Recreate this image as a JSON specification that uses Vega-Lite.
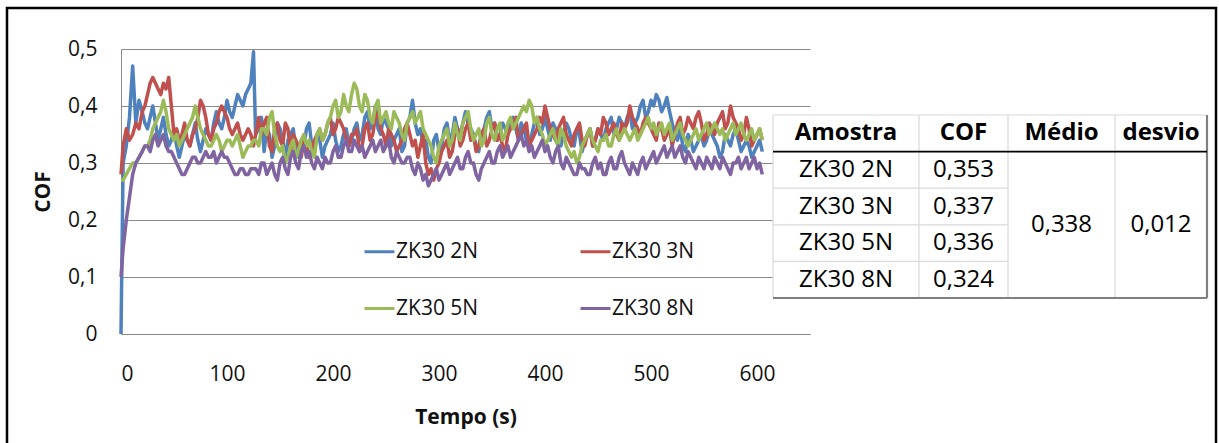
{
  "$schema": "https://vega.github.io/schema/vega-lite/v6.json",
  "width": 689,
  "height": 285,
  "autosize": {"type": "none"},
  "padding": {"left": 121, "top": 49, "right": 409, "bottom": 109},
  "background": "white",
  "config": {
    "view": {"stroke": null},
    "font": "Open Sans",
    "axis": {
      "labelFont": "Open Sans",
      "labelFontSize": 21,
      "labelColor": "#111111",
      "titleFont": "Open Sans",
      "titleFontSize": 21,
      "titleFontWeight": "bold",
      "titleColor": "#111111",
      "domainColor": "#8a8a8a",
      "gridColor": "#8a8a8a",
      "ticks": false
    }
  },
  "datasets": {
    "ensaios": [
      {"t":0,"ZK30 2N":0.00,"ZK30 3N":0.28,"ZK30 5N":0.27,"ZK30 8N":0.10},
      {"t":2,"ZK30 2N":0.30,"ZK30 3N":0.33,"ZK30 5N":0.27,"ZK30 8N":0.15},
      {"t":5,"ZK30 2N":0.33,"ZK30 3N":0.36,"ZK30 5N":0.28,"ZK30 8N":0.20},
      {"t":8,"ZK30 2N":0.38,"ZK30 3N":0.34,"ZK30 5N":0.29,"ZK30 8N":0.24},
      {"t":11,"ZK30 2N":0.47,"ZK30 3N":0.35,"ZK30 5N":0.30,"ZK30 8N":0.28},
      {"t":14,"ZK30 2N":0.37,"ZK30 3N":0.37,"ZK30 5N":0.30,"ZK30 8N":0.30},
      {"t":17,"ZK30 2N":0.41,"ZK30 3N":0.36,"ZK30 5N":0.31,"ZK30 8N":0.31},
      {"t":20,"ZK30 2N":0.39,"ZK30 3N":0.39,"ZK30 5N":0.32,"ZK30 8N":0.32},
      {"t":25,"ZK30 2N":0.36,"ZK30 3N":0.42,"ZK30 5N":0.33,"ZK30 8N":0.33},
      {"t":30,"ZK30 2N":0.40,"ZK30 3N":0.45,"ZK30 5N":0.36,"ZK30 8N":0.34},
      {"t":35,"ZK30 2N":0.34,"ZK30 3N":0.43,"ZK30 5N":0.38,"ZK30 8N":0.33},
      {"t":40,"ZK30 2N":0.38,"ZK30 3N":0.44,"ZK30 5N":0.41,"ZK30 8N":0.35},
      {"t":45,"ZK30 2N":0.33,"ZK30 3N":0.45,"ZK30 5N":0.36,"ZK30 8N":0.32},
      {"t":50,"ZK30 2N":0.36,"ZK30 3N":0.35,"ZK30 5N":0.34,"ZK30 8N":0.31},
      {"t":55,"ZK30 2N":0.31,"ZK30 3N":0.34,"ZK30 5N":0.33,"ZK30 8N":0.29},
      {"t":60,"ZK30 2N":0.35,"ZK30 3N":0.37,"ZK30 5N":0.35,"ZK30 8N":0.28},
      {"t":65,"ZK30 2N":0.33,"ZK30 3N":0.33,"ZK30 5N":0.37,"ZK30 8N":0.30},
      {"t":70,"ZK30 2N":0.37,"ZK30 3N":0.36,"ZK30 5N":0.40,"ZK30 8N":0.31},
      {"t":75,"ZK30 2N":0.32,"ZK30 3N":0.41,"ZK30 5N":0.36,"ZK30 8N":0.30},
      {"t":80,"ZK30 2N":0.36,"ZK30 3N":0.38,"ZK30 5N":0.34,"ZK30 8N":0.32},
      {"t":85,"ZK30 2N":0.34,"ZK30 3N":0.34,"ZK30 5N":0.33,"ZK30 8N":0.31},
      {"t":90,"ZK30 2N":0.39,"ZK30 3N":0.37,"ZK30 5N":0.35,"ZK30 8N":0.30},
      {"t":95,"ZK30 2N":0.36,"ZK30 3N":0.40,"ZK30 5N":0.32,"ZK30 8N":0.32},
      {"t":100,"ZK30 2N":0.41,"ZK30 3N":0.38,"ZK30 5N":0.34,"ZK30 8N":0.31},
      {"t":105,"ZK30 2N":0.38,"ZK30 3N":0.35,"ZK30 5N":0.33,"ZK30 8N":0.29},
      {"t":110,"ZK30 2N":0.42,"ZK30 3N":0.37,"ZK30 5N":0.35,"ZK30 8N":0.28},
      {"t":115,"ZK30 2N":0.40,"ZK30 3N":0.34,"ZK30 5N":0.31,"ZK30 8N":0.29},
      {"t":120,"ZK30 2N":0.43,"ZK30 3N":0.36,"ZK30 5N":0.33,"ZK30 8N":0.28},
      {"t":125,"ZK30 2N":0.495,"ZK30 3N":0.33,"ZK30 5N":0.34,"ZK30 8N":0.29},
      {"t":127,"ZK30 2N":0.35,"ZK30 3N":0.35,"ZK30 5N":0.34,"ZK30 8N":0.29},
      {"t":130,"ZK30 2N":0.36,"ZK30 3N":0.38,"ZK30 5N":0.33,"ZK30 8N":0.28},
      {"t":135,"ZK30 2N":0.32,"ZK30 3N":0.37,"ZK30 5N":0.36,"ZK30 8N":0.30},
      {"t":140,"ZK30 2N":0.35,"ZK30 3N":0.33,"ZK30 5N":0.38,"ZK30 8N":0.29},
      {"t":145,"ZK30 2N":0.33,"ZK30 3N":0.36,"ZK30 5N":0.35,"ZK30 8N":0.28},
      {"t":150,"ZK30 2N":0.36,"ZK30 3N":0.34,"ZK30 5N":0.32,"ZK30 8N":0.30},
      {"t":155,"ZK30 2N":0.31,"ZK30 3N":0.37,"ZK30 5N":0.30,"ZK30 8N":0.29},
      {"t":160,"ZK30 2N":0.35,"ZK30 3N":0.32,"ZK30 5N":0.33,"ZK30 8N":0.31},
      {"t":165,"ZK30 2N":0.32,"ZK30 3N":0.34,"ZK30 5N":0.31,"ZK30 8N":0.30},
      {"t":170,"ZK30 2N":0.34,"ZK30 3N":0.31,"ZK30 5N":0.34,"ZK30 8N":0.32},
      {"t":175,"ZK30 2N":0.36,"ZK30 3N":0.33,"ZK30 5N":0.33,"ZK30 8N":0.31},
      {"t":180,"ZK30 2N":0.33,"ZK30 3N":0.32,"ZK30 5N":0.32,"ZK30 8N":0.30},
      {"t":185,"ZK30 2N":0.35,"ZK30 3N":0.35,"ZK30 5N":0.35,"ZK30 8N":0.31},
      {"t":190,"ZK30 2N":0.31,"ZK30 3N":0.34,"ZK30 5N":0.34,"ZK30 8N":0.29},
      {"t":195,"ZK30 2N":0.34,"ZK30 3N":0.37,"ZK30 5N":0.37,"ZK30 8N":0.30},
      {"t":200,"ZK30 2N":0.37,"ZK30 3N":0.35,"ZK30 5N":0.40,"ZK30 8N":0.32},
      {"t":205,"ZK30 2N":0.32,"ZK30 3N":0.38,"ZK30 5N":0.38,"ZK30 8N":0.31},
      {"t":210,"ZK30 2N":0.35,"ZK30 3N":0.36,"ZK30 5N":0.42,"ZK30 8N":0.33},
      {"t":215,"ZK30 2N":0.33,"ZK30 3N":0.33,"ZK30 5N":0.39,"ZK30 8N":0.32},
      {"t":220,"ZK30 2N":0.36,"ZK30 3N":0.35,"ZK30 5N":0.44,"ZK30 8N":0.34},
      {"t":225,"ZK30 2N":0.34,"ZK30 3N":0.32,"ZK30 5N":0.40,"ZK30 8N":0.32},
      {"t":230,"ZK30 2N":0.38,"ZK30 3N":0.36,"ZK30 5N":0.42,"ZK30 8N":0.31},
      {"t":235,"ZK30 2N":0.36,"ZK30 3N":0.34,"ZK30 5N":0.38,"ZK30 8N":0.33},
      {"t":240,"ZK30 2N":0.40,"ZK30 3N":0.38,"ZK30 5N":0.40,"ZK30 8N":0.32},
      {"t":245,"ZK30 2N":0.35,"ZK30 3N":0.36,"ZK30 5N":0.37,"ZK30 8N":0.34},
      {"t":250,"ZK30 2N":0.37,"ZK30 3N":0.33,"ZK30 5N":0.39,"ZK30 8N":0.33},
      {"t":255,"ZK30 2N":0.33,"ZK30 3N":0.35,"ZK30 5N":0.36,"ZK30 8N":0.31},
      {"t":260,"ZK30 2N":0.35,"ZK30 3N":0.32,"ZK30 5N":0.38,"ZK30 8N":0.32},
      {"t":265,"ZK30 2N":0.32,"ZK30 3N":0.34,"ZK30 5N":0.35,"ZK30 8N":0.30},
      {"t":270,"ZK30 2N":0.37,"ZK30 3N":0.37,"ZK30 5N":0.37,"ZK30 8N":0.31},
      {"t":275,"ZK30 2N":0.41,"ZK30 3N":0.33,"ZK30 5N":0.39,"ZK30 8N":0.29},
      {"t":280,"ZK30 2N":0.35,"ZK30 3N":0.31,"ZK30 5N":0.38,"ZK30 8N":0.30},
      {"t":285,"ZK30 2N":0.33,"ZK30 3N":0.35,"ZK30 5N":0.36,"ZK30 8N":0.27},
      {"t":290,"ZK30 2N":0.31,"ZK30 3N":0.28,"ZK30 5N":0.34,"ZK30 8N":0.26},
      {"t":295,"ZK30 2N":0.34,"ZK30 3N":0.27,"ZK30 5N":0.31,"ZK30 8N":0.28},
      {"t":300,"ZK30 2N":0.32,"ZK30 3N":0.30,"ZK30 5N":0.33,"ZK30 8N":0.27},
      {"t":305,"ZK30 2N":0.36,"ZK30 3N":0.33,"ZK30 5N":0.35,"ZK30 8N":0.29},
      {"t":310,"ZK30 2N":0.34,"ZK30 3N":0.31,"ZK30 5N":0.33,"ZK30 8N":0.28},
      {"t":315,"ZK30 2N":0.38,"ZK30 3N":0.35,"ZK30 5N":0.37,"ZK30 8N":0.30},
      {"t":320,"ZK30 2N":0.35,"ZK30 3N":0.33,"ZK30 5N":0.34,"ZK30 8N":0.29},
      {"t":325,"ZK30 2N":0.39,"ZK30 3N":0.36,"ZK30 5N":0.38,"ZK30 8N":0.31},
      {"t":330,"ZK30 2N":0.36,"ZK30 3N":0.34,"ZK30 5N":0.36,"ZK30 8N":0.30},
      {"t":335,"ZK30 2N":0.33,"ZK30 3N":0.32,"ZK30 5N":0.35,"ZK30 8N":0.28},
      {"t":340,"ZK30 2N":0.35,"ZK30 3N":0.35,"ZK30 5N":0.33,"ZK30 8N":0.29},
      {"t":345,"ZK30 2N":0.38,"ZK30 3N":0.33,"ZK30 5N":0.37,"ZK30 8N":0.31},
      {"t":350,"ZK30 2N":0.36,"ZK30 3N":0.36,"ZK30 5N":0.35,"ZK30 8N":0.30},
      {"t":355,"ZK30 2N":0.34,"ZK30 3N":0.34,"ZK30 5N":0.36,"ZK30 8N":0.32},
      {"t":360,"ZK30 2N":0.37,"ZK30 3N":0.33,"ZK30 5N":0.34,"ZK30 8N":0.31},
      {"t":365,"ZK30 2N":0.35,"ZK30 3N":0.35,"ZK30 5N":0.37,"ZK30 8N":0.33},
      {"t":370,"ZK30 2N":0.38,"ZK30 3N":0.37,"ZK30 5N":0.36,"ZK30 8N":0.32},
      {"t":375,"ZK30 2N":0.34,"ZK30 3N":0.34,"ZK30 5N":0.38,"ZK30 8N":0.34},
      {"t":380,"ZK30 2N":0.36,"ZK30 3N":0.36,"ZK30 5N":0.40,"ZK30 8N":0.33},
      {"t":385,"ZK30 2N":0.33,"ZK30 3N":0.33,"ZK30 5N":0.41,"ZK30 8N":0.32},
      {"t":390,"ZK30 2N":0.37,"ZK30 3N":0.35,"ZK30 5N":0.37,"ZK30 8N":0.31},
      {"t":395,"ZK30 2N":0.35,"ZK30 3N":0.38,"ZK30 5N":0.36,"ZK30 8N":0.33},
      {"t":400,"ZK30 2N":0.38,"ZK30 3N":0.40,"ZK30 5N":0.33,"ZK30 8N":0.32},
      {"t":405,"ZK30 2N":0.34,"ZK30 3N":0.36,"ZK30 5N":0.35,"ZK30 8N":0.31},
      {"t":410,"ZK30 2N":0.36,"ZK30 3N":0.34,"ZK30 5N":0.34,"ZK30 8N":0.32},
      {"t":415,"ZK30 2N":0.33,"ZK30 3N":0.37,"ZK30 5N":0.36,"ZK30 8N":0.30},
      {"t":420,"ZK30 2N":0.37,"ZK30 3N":0.35,"ZK30 5N":0.33,"ZK30 8N":0.31},
      {"t":425,"ZK30 2N":0.34,"ZK30 3N":0.33,"ZK30 5N":0.31,"ZK30 8N":0.29},
      {"t":430,"ZK30 2N":0.36,"ZK30 3N":0.36,"ZK30 5N":0.30,"ZK30 8N":0.28},
      {"t":435,"ZK30 2N":0.32,"ZK30 3N":0.34,"ZK30 5N":0.33,"ZK30 8N":0.29},
      {"t":440,"ZK30 2N":0.35,"ZK30 3N":0.35,"ZK30 5N":0.35,"ZK30 8N":0.28},
      {"t":445,"ZK30 2N":0.33,"ZK30 3N":0.33,"ZK30 5N":0.34,"ZK30 8N":0.30},
      {"t":450,"ZK30 2N":0.36,"ZK30 3N":0.36,"ZK30 5N":0.32,"ZK30 8N":0.29},
      {"t":455,"ZK30 2N":0.34,"ZK30 3N":0.38,"ZK30 5N":0.34,"ZK30 8N":0.28},
      {"t":460,"ZK30 2N":0.37,"ZK30 3N":0.35,"ZK30 5N":0.33,"ZK30 8N":0.30},
      {"t":465,"ZK30 2N":0.35,"ZK30 3N":0.37,"ZK30 5N":0.35,"ZK30 8N":0.29},
      {"t":470,"ZK30 2N":0.38,"ZK30 3N":0.34,"ZK30 5N":0.34,"ZK30 8N":0.31},
      {"t":475,"ZK30 2N":0.36,"ZK30 3N":0.36,"ZK30 5N":0.36,"ZK30 8N":0.30},
      {"t":480,"ZK30 2N":0.39,"ZK30 3N":0.40,"ZK30 5N":0.34,"ZK30 8N":0.28},
      {"t":485,"ZK30 2N":0.37,"ZK30 3N":0.37,"ZK30 5N":0.36,"ZK30 8N":0.29},
      {"t":490,"ZK30 2N":0.40,"ZK30 3N":0.35,"ZK30 5N":0.35,"ZK30 8N":0.30},
      {"t":495,"ZK30 2N":0.38,"ZK30 3N":0.38,"ZK30 5N":0.37,"ZK30 8N":0.29},
      {"t":500,"ZK30 2N":0.41,"ZK30 3N":0.36,"ZK30 5N":0.36,"ZK30 8N":0.31},
      {"t":505,"ZK30 2N":0.42,"ZK30 3N":0.34,"ZK30 5N":0.35,"ZK30 8N":0.30},
      {"t":510,"ZK30 2N":0.39,"ZK30 3N":0.36,"ZK30 5N":0.37,"ZK30 8N":0.32},
      {"t":515,"ZK30 2N":0.415,"ZK30 3N":0.35,"ZK30 5N":0.36,"ZK30 8N":0.31},
      {"t":520,"ZK30 2N":0.37,"ZK30 3N":0.33,"ZK30 5N":0.34,"ZK30 8N":0.33},
      {"t":525,"ZK30 2N":0.34,"ZK30 3N":0.37,"ZK30 5N":0.36,"ZK30 8N":0.32},
      {"t":530,"ZK30 2N":0.33,"ZK30 3N":0.35,"ZK30 5N":0.35,"ZK30 8N":0.31},
      {"t":535,"ZK30 2N":0.35,"ZK30 3N":0.38,"ZK30 5N":0.33,"ZK30 8N":0.32},
      {"t":540,"ZK30 2N":0.32,"ZK30 3N":0.36,"ZK30 5N":0.35,"ZK30 8N":0.30},
      {"t":545,"ZK30 2N":0.34,"ZK30 3N":0.39,"ZK30 5N":0.34,"ZK30 8N":0.31},
      {"t":550,"ZK30 2N":0.33,"ZK30 3N":0.34,"ZK30 5N":0.36,"ZK30 8N":0.29},
      {"t":555,"ZK30 2N":0.36,"ZK30 3N":0.37,"ZK30 5N":0.35,"ZK30 8N":0.30},
      {"t":560,"ZK30 2N":0.34,"ZK30 3N":0.35,"ZK30 5N":0.37,"ZK30 8N":0.31},
      {"t":565,"ZK30 2N":0.31,"ZK30 3N":0.38,"ZK30 5N":0.35,"ZK30 8N":0.29},
      {"t":570,"ZK30 2N":0.35,"ZK30 3N":0.36,"ZK30 5N":0.34,"ZK30 8N":0.30},
      {"t":575,"ZK30 2N":0.33,"ZK30 3N":0.40,"ZK30 5N":0.36,"ZK30 8N":0.28},
      {"t":580,"ZK30 2N":0.36,"ZK30 3N":0.37,"ZK30 5N":0.35,"ZK30 8N":0.30},
      {"t":585,"ZK30 2N":0.32,"ZK30 3N":0.34,"ZK30 5N":0.37,"ZK30 8N":0.29},
      {"t":590,"ZK30 2N":0.34,"ZK30 3N":0.38,"ZK30 5N":0.34,"ZK30 8N":0.31},
      {"t":595,"ZK30 2N":0.31,"ZK30 3N":0.33,"ZK30 5N":0.36,"ZK30 8N":0.30},
      {"t":600,"ZK30 2N":0.33,"ZK30 3N":0.35,"ZK30 5N":0.35,"ZK30 8N":0.29},
      {"t":605,"ZK30 2N":0.32,"ZK30 3N":0.34,"ZK30 5N":0.34,"ZK30 8N":0.28},
      {"t":22.5,"ZK30 2N":0.37,"ZK30 3N":0.40,"ZK30 5N":0.33,"ZK30 8N":0.33},
      {"t":27.5,"ZK30 2N":0.38,"ZK30 3N":0.44,"ZK30 5N":0.34,"ZK30 8N":0.32},
      {"t":32.5,"ZK30 2N":0.37,"ZK30 3N":0.44,"ZK30 5N":0.37,"ZK30 8N":0.35},
      {"t":37.5,"ZK30 2N":0.36,"ZK30 3N":0.42,"ZK30 5N":0.39,"ZK30 8N":0.34},
      {"t":42.5,"ZK30 2N":0.35,"ZK30 3N":0.43,"ZK30 5N":0.39,"ZK30 8N":0.33},
      {"t":47.5,"ZK30 2N":0.34,"ZK30 3N":0.40,"ZK30 5N":0.35,"ZK30 8N":0.32},
      {"t":52.5,"ZK30 2N":0.33,"ZK30 3N":0.36,"ZK30 5N":0.35,"ZK30 8N":0.30},
      {"t":57.5,"ZK30 2N":0.33,"ZK30 3N":0.35,"ZK30 5N":0.34,"ZK30 8N":0.28},
      {"t":62.5,"ZK30 2N":0.34,"ZK30 3N":0.34,"ZK30 5N":0.36,"ZK30 8N":0.29},
      {"t":67.5,"ZK30 2N":0.35,"ZK30 3N":0.35,"ZK30 5N":0.38,"ZK30 8N":0.31},
      {"t":72.5,"ZK30 2N":0.34,"ZK30 3N":0.38,"ZK30 5N":0.38,"ZK30 8N":0.30},
      {"t":77.5,"ZK30 2N":0.34,"ZK30 3N":0.40,"ZK30 5N":0.35,"ZK30 8N":0.31},
      {"t":82.5,"ZK30 2N":0.35,"ZK30 3N":0.35,"ZK30 5N":0.33,"ZK30 8N":0.31},
      {"t":87.5,"ZK30 2N":0.37,"ZK30 3N":0.36,"ZK30 5N":0.34,"ZK30 8N":0.32},
      {"t":92.5,"ZK30 2N":0.37,"ZK30 3N":0.39,"ZK30 5N":0.34,"ZK30 8N":0.31},
      {"t":97.5,"ZK30 2N":0.38,"ZK30 3N":0.39,"ZK30 5N":0.33,"ZK30 8N":0.31},
      {"t":102.5,"ZK30 2N":0.39,"ZK30 3N":0.36,"ZK30 5N":0.34,"ZK30 8N":0.30},
      {"t":107.5,"ZK30 2N":0.40,"ZK30 3N":0.36,"ZK30 5N":0.34,"ZK30 8N":0.28},
      {"t":112.5,"ZK30 2N":0.41,"ZK30 3N":0.35,"ZK30 5N":0.33,"ZK30 8N":0.29},
      {"t":117.5,"ZK30 2N":0.42,"ZK30 3N":0.35,"ZK30 5N":0.32,"ZK30 8N":0.28},
      {"t":122.5,"ZK30 2N":0.44,"ZK30 3N":0.35,"ZK30 5N":0.33,"ZK30 8N":0.29},
      {"t":132.5,"ZK30 2N":0.38,"ZK30 3N":0.35,"ZK30 5N":0.36,"ZK30 8N":0.30},
      {"t":137.5,"ZK30 2N":0.36,"ZK30 3N":0.38,"ZK30 5N":0.35,"ZK30 8N":0.28},
      {"t":142.5,"ZK30 2N":0.31,"ZK30 3N":0.32,"ZK30 5N":0.39,"ZK30 8N":0.30},
      {"t":147.5,"ZK30 2N":0.37,"ZK30 3N":0.37,"ZK30 5N":0.33,"ZK30 8N":0.27},
      {"t":152.5,"ZK30 2N":0.34,"ZK30 3N":0.33,"ZK30 5N":0.33,"ZK30 8N":0.31},
      {"t":157.5,"ZK30 2N":0.34,"ZK30 3N":0.36,"ZK30 5N":0.31,"ZK30 8N":0.28},
      {"t":162.5,"ZK30 2N":0.36,"ZK30 3N":0.35,"ZK30 5N":0.34,"ZK30 8N":0.32},
      {"t":167.5,"ZK30 2N":0.31,"ZK30 3N":0.33,"ZK30 5N":0.32,"ZK30 8N":0.29},
      {"t":172.5,"ZK30 2N":0.33,"ZK30 3N":0.34,"ZK30 5N":0.35,"ZK30 8N":0.33},
      {"t":177.5,"ZK30 2N":0.37,"ZK30 3N":0.31,"ZK30 5N":0.34,"ZK30 8N":0.32},
      {"t":182.5,"ZK30 2N":0.32,"ZK30 3N":0.34,"ZK30 5N":0.31,"ZK30 8N":0.29},
      {"t":187.5,"ZK30 2N":0.34,"ZK30 3N":0.36,"ZK30 5N":0.36,"ZK30 8N":0.30},
      {"t":192.5,"ZK30 2N":0.33,"ZK30 3N":0.35,"ZK30 5N":0.35,"ZK30 8N":0.31},
      {"t":197.5,"ZK30 2N":0.35,"ZK30 3N":0.38,"ZK30 5N":0.38,"ZK30 8N":0.30},
      {"t":202.5,"ZK30 2N":0.34,"ZK30 3N":0.36,"ZK30 5N":0.41,"ZK30 8N":0.33},
      {"t":207.5,"ZK30 2N":0.33,"ZK30 3N":0.37,"ZK30 5N":0.39,"ZK30 8N":0.31},
      {"t":212.5,"ZK30 2N":0.36,"ZK30 3N":0.34,"ZK30 5N":0.40,"ZK30 8N":0.34},
      {"t":217.5,"ZK30 2N":0.34,"ZK30 3N":0.35,"ZK30 5N":0.42,"ZK30 8N":0.32},
      {"t":222.5,"ZK30 2N":0.37,"ZK30 3N":0.36,"ZK30 5N":0.43,"ZK30 8N":0.33},
      {"t":227.5,"ZK30 2N":0.35,"ZK30 3N":0.33,"ZK30 5N":0.39,"ZK30 8N":0.33},
      {"t":232.5,"ZK30 2N":0.39,"ZK30 3N":0.37,"ZK30 5N":0.41,"ZK30 8N":0.32},
      {"t":237.5,"ZK30 2N":0.37,"ZK30 3N":0.35,"ZK30 5N":0.37,"ZK30 8N":0.34},
      {"t":242.5,"ZK30 2N":0.36,"ZK30 3N":0.39,"ZK30 5N":0.41,"ZK30 8N":0.33},
      {"t":247.5,"ZK30 2N":0.38,"ZK30 3N":0.35,"ZK30 5N":0.38,"ZK30 8N":0.32},
      {"t":252.5,"ZK30 2N":0.36,"ZK30 3N":0.36,"ZK30 5N":0.37,"ZK30 8N":0.34},
      {"t":257.5,"ZK30 2N":0.34,"ZK30 3N":0.34,"ZK30 5N":0.39,"ZK30 8N":0.30},
      {"t":262.5,"ZK30 2N":0.36,"ZK30 3N":0.33,"ZK30 5N":0.37,"ZK30 8N":0.31},
      {"t":267.5,"ZK30 2N":0.33,"ZK30 3N":0.36,"ZK30 5N":0.34,"ZK30 8N":0.30},
      {"t":272.5,"ZK30 2N":0.38,"ZK30 3N":0.35,"ZK30 5N":0.38,"ZK30 8N":0.31},
      {"t":277.5,"ZK30 2N":0.37,"ZK30 3N":0.34,"ZK30 5N":0.37,"ZK30 8N":0.28},
      {"t":282.5,"ZK30 2N":0.36,"ZK30 3N":0.33,"ZK30 5N":0.39,"ZK30 8N":0.29},
      {"t":287.5,"ZK30 2N":0.34,"ZK30 3N":0.30,"ZK30 5N":0.35,"ZK30 8N":0.28},
      {"t":292.5,"ZK30 2N":0.30,"ZK30 3N":0.29,"ZK30 5N":0.33,"ZK30 8N":0.27},
      {"t":297.5,"ZK30 2N":0.35,"ZK30 3N":0.29,"ZK30 5N":0.30,"ZK30 8N":0.29},
      {"t":302.5,"ZK30 2N":0.33,"ZK30 3N":0.32,"ZK30 5N":0.34,"ZK30 8N":0.28},
      {"t":307.5,"ZK30 2N":0.37,"ZK30 3N":0.34,"ZK30 5N":0.36,"ZK30 8N":0.30},
      {"t":312.5,"ZK30 2N":0.35,"ZK30 3N":0.32,"ZK30 5N":0.34,"ZK30 8N":0.29},
      {"t":317.5,"ZK30 2N":0.36,"ZK30 3N":0.36,"ZK30 5N":0.35,"ZK30 8N":0.31},
      {"t":322.5,"ZK30 2N":0.37,"ZK30 3N":0.34,"ZK30 5N":0.37,"ZK30 8N":0.29},
      {"t":327.5,"ZK30 2N":0.37,"ZK30 3N":0.37,"ZK30 5N":0.39,"ZK30 8N":0.32},
      {"t":332.5,"ZK30 2N":0.35,"ZK30 3N":0.35,"ZK30 5N":0.34,"ZK30 8N":0.30},
      {"t":337.5,"ZK30 2N":0.32,"ZK30 3N":0.33,"ZK30 5N":0.36,"ZK30 8N":0.27},
      {"t":342.5,"ZK30 2N":0.36,"ZK30 3N":0.36,"ZK30 5N":0.34,"ZK30 8N":0.30},
      {"t":347.5,"ZK30 2N":0.39,"ZK30 3N":0.34,"ZK30 5N":0.38,"ZK30 8N":0.32},
      {"t":352.5,"ZK30 2N":0.37,"ZK30 3N":0.37,"ZK30 5N":0.34,"ZK30 8N":0.30},
      {"t":357.5,"ZK30 2N":0.35,"ZK30 3N":0.35,"ZK30 5N":0.37,"ZK30 8N":0.33},
      {"t":362.5,"ZK30 2N":0.36,"ZK30 3N":0.32,"ZK30 5N":0.35,"ZK30 8N":0.32},
      {"t":367.5,"ZK30 2N":0.37,"ZK30 3N":0.36,"ZK30 5N":0.38,"ZK30 8N":0.31},
      {"t":372.5,"ZK30 2N":0.36,"ZK30 3N":0.38,"ZK30 5N":0.37,"ZK30 8N":0.33},
      {"t":377.5,"ZK30 2N":0.37,"ZK30 3N":0.35,"ZK30 5N":0.39,"ZK30 8N":0.35},
      {"t":382.5,"ZK30 2N":0.34,"ZK30 3N":0.37,"ZK30 5N":0.39,"ZK30 8N":0.34},
      {"t":387.5,"ZK30 2N":0.35,"ZK30 3N":0.34,"ZK30 5N":0.40,"ZK30 8N":0.33},
      {"t":392.5,"ZK30 2N":0.38,"ZK30 3N":0.36,"ZK30 5N":0.38,"ZK30 8N":0.32},
      {"t":397.5,"ZK30 2N":0.36,"ZK30 3N":0.37,"ZK30 5N":0.35,"ZK30 8N":0.34},
      {"t":402.5,"ZK30 2N":0.36,"ZK30 3N":0.38,"ZK30 5N":0.34,"ZK30 8N":0.33},
      {"t":407.5,"ZK30 2N":0.37,"ZK30 3N":0.35,"ZK30 5N":0.36,"ZK30 8N":0.30},
      {"t":412.5,"ZK30 2N":0.34,"ZK30 3N":0.36,"ZK30 5N":0.33,"ZK30 8N":0.33},
      {"t":417.5,"ZK30 2N":0.35,"ZK30 3N":0.38,"ZK30 5N":0.35,"ZK30 8N":0.29},
      {"t":422.5,"ZK30 2N":0.36,"ZK30 3N":0.34,"ZK30 5N":0.32,"ZK30 8N":0.30},
      {"t":427.5,"ZK30 2N":0.33,"ZK30 3N":0.35,"ZK30 5N":0.32,"ZK30 8N":0.28},
      {"t":432.5,"ZK30 2N":0.35,"ZK30 3N":0.37,"ZK30 5N":0.31,"ZK30 8N":0.30},
      {"t":437.5,"ZK30 2N":0.34,"ZK30 3N":0.33,"ZK30 5N":0.34,"ZK30 8N":0.29},
      {"t":442.5,"ZK30 2N":0.36,"ZK30 3N":0.36,"ZK30 5N":0.36,"ZK30 8N":0.28},
      {"t":447.5,"ZK30 2N":0.34,"ZK30 3N":0.34,"ZK30 5N":0.33,"ZK30 8N":0.31},
      {"t":452.5,"ZK30 2N":0.35,"ZK30 3N":0.35,"ZK30 5N":0.34,"ZK30 8N":0.30},
      {"t":457.5,"ZK30 2N":0.36,"ZK30 3N":0.37,"ZK30 5N":0.35,"ZK30 8N":0.28},
      {"t":462.5,"ZK30 2N":0.38,"ZK30 3N":0.36,"ZK30 5N":0.33,"ZK30 8N":0.31},
      {"t":467.5,"ZK30 2N":0.36,"ZK30 3N":0.35,"ZK30 5N":0.36,"ZK30 8N":0.29},
      {"t":472.5,"ZK30 2N":0.37,"ZK30 3N":0.37,"ZK30 5N":0.35,"ZK30 8N":0.32},
      {"t":477.5,"ZK30 2N":0.38,"ZK30 3N":0.37,"ZK30 5N":0.35,"ZK30 8N":0.29},
      {"t":482.5,"ZK30 2N":0.36,"ZK30 3N":0.38,"ZK30 5N":0.35,"ZK30 8N":0.30},
      {"t":487.5,"ZK30 2N":0.38,"ZK30 3N":0.36,"ZK30 5N":0.34,"ZK30 8N":0.28},
      {"t":492.5,"ZK30 2N":0.41,"ZK30 3N":0.37,"ZK30 5N":0.36,"ZK30 8N":0.31},
      {"t":497.5,"ZK30 2N":0.39,"ZK30 3N":0.37,"ZK30 5N":0.38,"ZK30 8N":0.30},
      {"t":502.5,"ZK30 2N":0.40,"ZK30 3N":0.35,"ZK30 5N":0.37,"ZK30 8N":0.32},
      {"t":507.5,"ZK30 2N":0.41,"ZK30 3N":0.37,"ZK30 5N":0.36,"ZK30 8N":0.31},
      {"t":512.5,"ZK30 2N":0.40,"ZK30 3N":0.34,"ZK30 5N":0.35,"ZK30 8N":0.33},
      {"t":517.5,"ZK30 2N":0.39,"ZK30 3N":0.36,"ZK30 5N":0.37,"ZK30 8N":0.32},
      {"t":522.5,"ZK30 2N":0.35,"ZK30 3N":0.35,"ZK30 5N":0.35,"ZK30 8N":0.31},
      {"t":527.5,"ZK30 2N":0.36,"ZK30 3N":0.38,"ZK30 5N":0.37,"ZK30 8N":0.33},
      {"t":532.5,"ZK30 2N":0.32,"ZK30 3N":0.36,"ZK30 5N":0.34,"ZK30 8N":0.30},
      {"t":537.5,"ZK30 2N":0.34,"ZK30 3N":0.37,"ZK30 5N":0.34,"ZK30 8N":0.31},
      {"t":542.5,"ZK30 2N":0.33,"ZK30 3N":0.38,"ZK30 5N":0.36,"ZK30 8N":0.29},
      {"t":547.5,"ZK30 2N":0.35,"ZK30 3N":0.37,"ZK30 5N":0.35,"ZK30 8N":0.30},
      {"t":552.5,"ZK30 2N":0.34,"ZK30 3N":0.35,"ZK30 5N":0.37,"ZK30 8N":0.31},
      {"t":557.5,"ZK30 2N":0.35,"ZK30 3N":0.36,"ZK30 5N":0.36,"ZK30 8N":0.29},
      {"t":562.5,"ZK30 2N":0.33,"ZK30 3N":0.37,"ZK30 5N":0.36,"ZK30 8N":0.30},
      {"t":567.5,"ZK30 2N":0.32,"ZK30 3N":0.39,"ZK30 5N":0.36,"ZK30 8N":0.31},
      {"t":572.5,"ZK30 2N":0.34,"ZK30 3N":0.37,"ZK30 5N":0.35,"ZK30 8N":0.29},
      {"t":577.5,"ZK30 2N":0.35,"ZK30 3N":0.38,"ZK30 5N":0.37,"ZK30 8N":0.30},
      {"t":582.5,"ZK30 2N":0.34,"ZK30 3N":0.36,"ZK30 5N":0.36,"ZK30 8N":0.31},
      {"t":587.5,"ZK30 2N":0.33,"ZK30 3N":0.35,"ZK30 5N":0.35,"ZK30 8N":0.30},
      {"t":592.5,"ZK30 2N":0.33,"ZK30 3N":0.36,"ZK30 5N":0.35,"ZK30 8N":0.29},
      {"t":597.5,"ZK30 2N":0.32,"ZK30 3N":0.34,"ZK30 5N":0.34,"ZK30 8N":0.31},
      {"t":602.5,"ZK30 2N":0.34,"ZK30 3N":0.36,"ZK30 5N":0.36,"ZK30 8N":0.30}
    ],
    "tabela": [
      {"c": 0.5, "l": 0.5, "texto": "Amostra", "parte": "cabecalho"},
      {"c": 1.5, "l": 0.5, "texto": "COF", "parte": "cabecalho"},
      {"c": 2.5, "l": 0.5, "texto": "Médio", "parte": "cabecalho"},
      {"c": 3.5, "l": 0.5, "texto": "desvio", "parte": "cabecalho"},
      {"c": 0.5, "l": 1.5, "texto": "ZK30 2N", "parte": "corpo"},
      {"c": 1.5, "l": 1.5, "texto": "0,353", "parte": "corpo"},
      {"c": 0.5, "l": 2.5, "texto": "ZK30 3N", "parte": "corpo"},
      {"c": 1.5, "l": 2.5, "texto": "0,337", "parte": "corpo"},
      {"c": 0.5, "l": 3.5, "texto": "ZK30 5N", "parte": "corpo"},
      {"c": 1.5, "l": 3.5, "texto": "0,336", "parte": "corpo"},
      {"c": 0.5, "l": 4.5, "texto": "ZK30 8N", "parte": "corpo"},
      {"c": 1.5, "l": 4.5, "texto": "0,324", "parte": "corpo"},
      {"c": 2.5, "l": 3, "texto": "0,338", "parte": "corpo"},
      {"c": 3.5, "l": 3, "texto": "0,012", "parte": "corpo"}
    ],
    "linhas": [
      {"c": 0, "c2": 4, "l": 0, "l2": 0, "tipo": "grade"},
      {"c": 0, "c2": 0, "l": 0, "l2": 5, "tipo": "grade"},
      {"c": 1, "c2": 1, "l": 0, "l2": 5, "tipo": "grade"},
      {"c": 2, "c2": 2, "l": 0, "l2": 5, "tipo": "grade"},
      {"c": 3, "c2": 3, "l": 0, "l2": 5, "tipo": "grade"},
      {"c": 0, "c2": 2, "l": 2, "l2": 2, "tipo": "grade"},
      {"c": 0, "c2": 2, "l": 3, "l2": 3, "tipo": "grade"},
      {"c": 0, "c2": 2, "l": 4, "l2": 4, "tipo": "grade"},
      {"c": 0, "c2": 4, "l": 1, "l2": 1, "tipo": "cabecalho"},
      {"c": 4, "c2": 4, "l": 0, "l2": 5, "tipo": "sombra"},
      {"c": 0, "c2": 4, "l": 5, "l2": 5, "tipo": "sombra"}
    ]
  },
  "layer": [
    {
      "data": {"name": "ensaios"},
      "transform": [
        {"fold": ["ZK30 2N", "ZK30 3N", "ZK30 5N", "ZK30 8N"], "as": ["Amostra", "COF"]}
      ],
      "mark": {"type": "line", "strokeWidth": 3.5, "strokeJoin": "round"},
      "encoding": {
        "x": {
          "field": "t",
          "type": "quantitative",
          "scale": {"domain": [0, 650], "nice": false, "zero": false},
          "axis": {
            "title": "Tempo (s)",
            "values": [0, 100, 200, 300, 400, 500, 600],
            "format": "d",
            "grid": false,
            "labelPadding": 29,
            "titlePadding": 22
          }
        },
        "y": {
          "field": "COF",
          "type": "quantitative",
          "scale": {"domain": [0, 0.5], "nice": false},
          "axis": {
            "title": "COF",
            "values": [0, 0.1, 0.2, 0.3, 0.4, 0.5],
            "labelExpr": "replace(format(datum.value, '.1~f'), '.', ',')",
            "grid": true,
            "labelPadding": 24,
            "titlePadding": 14
          }
        },
        "color": {
          "field": "Amostra",
          "type": "nominal",
          "scale": {
            "domain": ["ZK30 2N", "ZK30 3N", "ZK30 5N", "ZK30 8N"],
            "range": ["#4F81BD", "#C0504D", "#9BBB59", "#8064A2"]
          },
          "legend": {
            "title": null,
            "orient": "none",
            "legendX": 242,
            "legendY": 186,
            "columns": 2,
            "direction": "horizontal",
            "columnPadding": 95,
            "rowPadding": 30,
            "padding": 0,
            "symbolType": "stroke",
            "symbolSize": 900,
            "symbolStrokeWidth": 3,
            "labelFont": "Open Sans",
            "labelFontSize": 21,
            "labelColor": "#111111",
            "labelOffset": 0,
            "labelLimit": 200
          }
        }
      }
    },
    {
      "encoding": {
        "x": {
          "field": "c",
          "type": "quantitative",
          "scale": {
            "domain": [-1, 0, 1, 2, 3, 4, 5],
            "range": [-114, 652, 798, 887, 994, 1086, 1095],
            "nice": false,
            "zero": false
          },
          "axis": null
        },
        "y": {
          "field": "l",
          "type": "quantitative",
          "scale": {
            "domain": [-1, 0, 5, 6],
            "range": [-41, 66, 249, 411],
            "nice": false,
            "zero": false
          },
          "axis": null
        }
      },
      "layer": [
        {
          "data": {"values": [{"c": 0, "c2": 4, "l": 0, "l2": 5}]},
          "mark": {"type": "rect", "fill": "white", "stroke": null},
          "encoding": {
            "x2": {"field": "c2"},
            "y2": {"field": "l2"}
          }
        },
        {
          "data": {"name": "linhas"},
          "transform": [{"filter": "datum.tipo === 'grade'"}],
          "mark": {"type": "rule", "color": "#d9d9d9", "strokeWidth": 1.2},
          "encoding": {"x2": {"field": "c2"}, "y2": {"field": "l2"}}
        },
        {
          "data": {"name": "linhas"},
          "transform": [{"filter": "datum.tipo === 'sombra'"}],
          "mark": {"type": "rule", "color": "#808080", "strokeWidth": 2.2},
          "encoding": {"x2": {"field": "c2"}, "y2": {"field": "l2"}}
        },
        {
          "data": {"name": "linhas"},
          "transform": [{"filter": "datum.tipo === 'cabecalho'"}],
          "mark": {"type": "rule", "color": "#000000", "strokeWidth": 1.8},
          "encoding": {"x2": {"field": "c2"}, "y2": {"field": "l2"}}
        },
        {
          "data": {"name": "tabela"},
          "transform": [{"filter": "datum.parte === 'cabecalho'"}],
          "mark": {
            "type": "text",
            "font": "Open Sans",
            "fontSize": 24,
            "fontWeight": "bold",
            "color": "#000000",
            "align": "center",
            "baseline": "middle"
          },
          "encoding": {"text": {"field": "texto"}}
        },
        {
          "data": {"name": "tabela"},
          "transform": [{"filter": "datum.parte === 'corpo'"}],
          "mark": {
            "type": "text",
            "font": "Open Sans",
            "fontSize": 24,
            "color": "#000000",
            "align": "center",
            "baseline": "middle"
          },
          "encoding": {"text": {"field": "texto"}}
        },
        {
          "data": {"values": [{"c": -1, "c2": 5, "l": -1, "l2": 6}]},
          "mark": {"type": "rect", "fill": null, "stroke": "#000000", "strokeWidth": 2.5},
          "encoding": {
            "x2": {"field": "c2"},
            "y2": {"field": "l2"}
          }
        }
      ]
    }
  ],
  "resolve": {"scale": {"x": "independent", "y": "independent"}}
}
